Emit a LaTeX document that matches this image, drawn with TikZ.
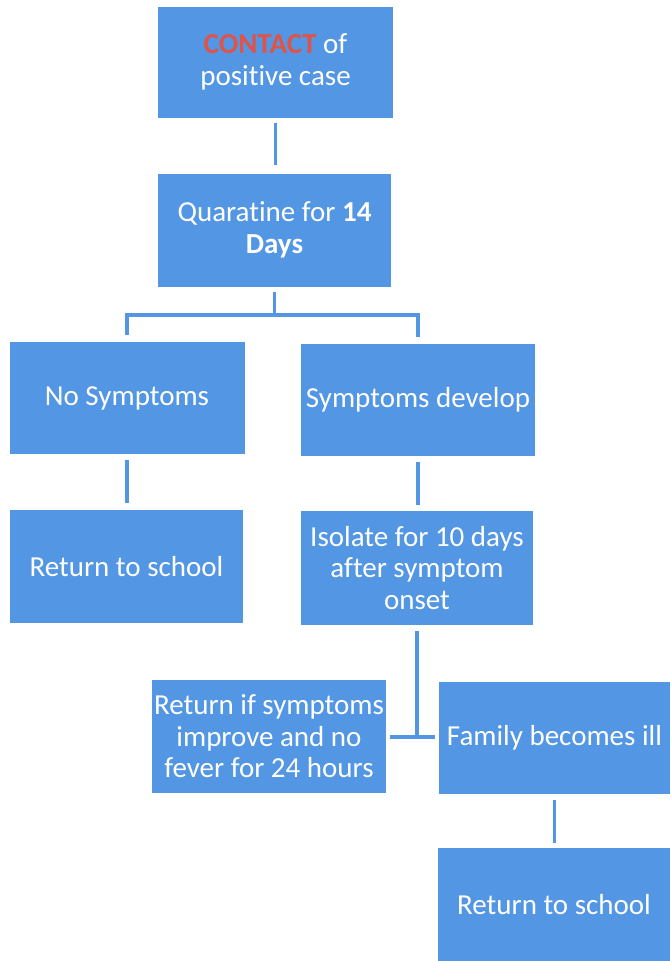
\documentclass[tikz,border=0pt]{standalone}
\usepackage{fontspec}
\setmainfont{Carlito}[Ligatures=NoCommon]
\definecolor{boxblue}{RGB}{82,150,228}
\definecolor{contactred}{RGB}{222,84,72}
\tikzset{
  box/.style={rectangle, fill=boxblue, draw=none, text=white, align=center, inner sep=0pt,
    font=\fontsize{29}{31.5}\selectfont},
  conn/.style={draw=boxblue, line width=3.5pt}
}
\begin{document}
\begin{tikzpicture}[x=1pt,y=-1pt]
\useasboundingbox (0,0) rectangle (670,961);
\node[box, minimum width=235pt, minimum height=111pt] (c1) at (275.5,62) {{\bfseries\color{contactred}CONTACT} of\\positive case};
\node[box, minimum width=233pt, minimum height=113pt] (c2) at (274.5,230) {Quaratine for \textbf{14}\\\textbf{Days}};
\node[box, minimum width=235pt, minimum height=112pt] (ns) at (127,398) {No Symptoms};
\node[box, minimum width=234pt, minimum height=112pt] (sd) at (418,400) {Symptoms develop};
\node[box, minimum width=233pt, minimum height=113pt] (rs1) at (126.5,566.5) {Return to school};
\node[box, minimum width=232pt, minimum height=114pt] (iso) at (417,568) {Isolate for 10 days\\after symptom\\onset};
\node[box, minimum width=234pt, minimum height=113pt] (ret) at (269,736.5) {Return if symptoms\\improve and no\\fever for 24 hours};
\node[box, minimum width=231pt, minimum height=112pt] (fam) at (554.5,738) {Family becomes ill};
\node[box, minimum width=232pt, minimum height=113pt] (rs2) at (554,904.5) {Return to school};
\coordinate (j) at (c2.south |- 0,315);
\coordinate (k) at (417,737);
\draw[conn] ([yshift=-5pt]c1.south) -- ([yshift=8pt]c1.south |- c2.north);
\draw[conn] ([yshift=-5pt]c2.south) -- (j);
\draw[conn] ([yshift=7pt]ns.north) |- (j) -| ([yshift=7pt]sd.north);
\draw[conn] ([yshift=-6pt]ns.south) -- ([yshift=7pt]ns.south |- rs1.north);
\draw[conn] ([yshift=-6pt]sd.south) -- ([yshift=6pt]sd.south |- iso.north);
\draw[conn] ([yshift=-6pt]iso.south) -- (k);
\draw[conn] ([xshift=4pt]ret.east |- k) -- ([xshift=-4pt]fam.west |- k);
\draw[conn] ([yshift=-6pt]fam.south) -- ([yshift=5pt]fam.south |- rs2.north);
\end{tikzpicture}
\end{document}
